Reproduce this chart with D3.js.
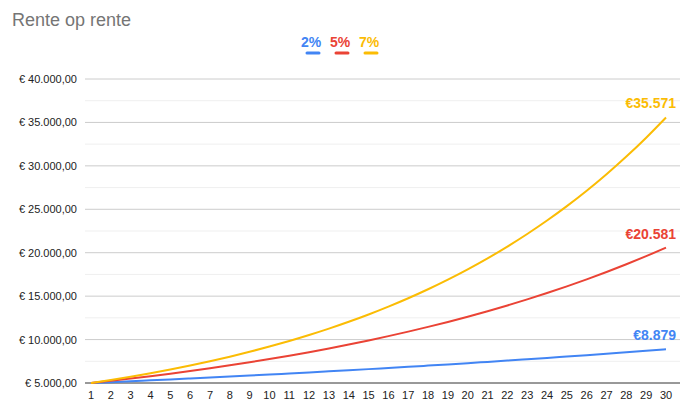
<!DOCTYPE html>
<html><head><meta charset="utf-8">
<script src="https://cdn.jsdelivr.net/npm/d3@7"></script>
<style>body{margin:0;background:#fff;font-family:"Liberation Sans",Arial,sans-serif}</style>
</head><body><svg id="c" width="690" height="410"></svg>
<script>
const years = d3.range(1, 31)
const rate2 = [5000,5100,5202,5306.04,5412.16,5520.40,5630.81,5743.43,5858.30,5975.46,6094.97,6216.87,6341.21,6468.04,6597.40,6729.34,6863.93,7001.21,7141.23,7284.06,7429.74,7578.33,7729.90,7884.50,8042.19,8203.03,8367.09,8534.44,8705.13,8879.23]
const rate5 = [5000,5250,5512.5,5788.13,6077.53,6381.41,6700.48,7035.50,7387.28,7756.64,8144.47,8551.70,8979.28,9428.25,9899.66,10394.64,10914.37,11460.09,12033.10,12634.75,13266.49,13929.81,14626.30,15357.62,16125.50,16931.77,17778.36,18667.28,19600.65,20580.68]
const rate7 = [5000,5350,5724.5,6125.22,6553.98,7012.76,7503.65,8028.91,8590.93,9192.30,9835.76,10524.26,11260.96,12049.22,12892.67,13795.15,14760.81,15794.07,16899.65,18082.63,19348.41,20702.80,22151.99,23702.63,25361.82,27137.14,29036.74,31069.31,33244.16,35571.25]
const seriesNames = ['2%', '5%', '7%']
const yTicks = [5000, 10000, 15000, 20000, 25000, 30000, 35000, 40000]

const colors = ['#4285f4', '#ea4335', '#fbbc04']
const series = [rate2, rate5, rate7]
const svg = d3.select('#c')

const x = d3.scalePoint().domain(years).range([91, 666])
const y = d3.scaleLinear().domain([5000, 40000]).range([383, 79])

svg.append('text').attr('x', 12).attr('y', 26).attr('fill', '#757575')
  .style('font-size', '18px').text('Rente op rente')

// minor grid
svg.append('g').selectAll('line').data(yTicks.slice(0, -1).map((d) => d + 2500))
  .join('line').attr('x1', 85).attr('x2', 680).attr('y1', (d) => y(d)).attr('y2', (d) => y(d))
  .attr('stroke', '#efefef')
svg.append('g').selectAll('line').data(yTicks)
  .join('line').attr('x1', 85).attr('x2', 680).attr('y1', (d) => y(d)).attr('y2', (d) => y(d))
  .attr('stroke', (d) => d === 5000 ? '#333' : '#ccc')

const fmt = (v) => '€ ' + v.toLocaleString('de-DE') + ',00'
svg.append('g').selectAll('text').data(yTicks).join('text')
  .attr('x', 77).attr('y', (d) => y(d) + 4).attr('text-anchor', 'end')
  .attr('fill', '#222').style('font-size', '11px').text(fmt)

svg.append('g').selectAll('text').data(years).join('text')
  .attr('x', (d) => x(d)).attr('y', 399).attr('text-anchor', 'middle')
  .attr('fill', '#222').style('font-size', '11px').text((d) => d)

const line = d3.line().x((d, i) => x(years[i])).y((d) => y(d)).curve(d3.curveMonotoneX)
series.forEach((s, i) => {
  svg.append('path').datum(s).attr('d', line).attr('fill', 'none')
    .attr('stroke', colors[i]).attr('stroke-width', 2)
  const last = s[s.length - 1]
  svg.append('text').attr('x', x(30) + 10).attr('y', y(last) - 9).attr('text-anchor', 'end')
    .attr('fill', colors[i]).style('font-size', '14px').style('font-weight', 'bold')
    .text('€' + Math.round(last).toLocaleString('de-DE'))
})

// legend
const lg = svg.append('g').selectAll('g').data(seriesNames).join('g')
  .attr('transform', (d, i) => `translate(${301 + i * 29},0)`)
lg.append('text').attr('y', 47).attr('fill', (d, i) => colors[i])
  .style('font-size', '14px').style('font-weight', 'bold').text((d) => d)
lg.append('line').attr('x1', 6).attr('x2', 18).attr('y1', 53).attr('y2', 53)
  .attr('stroke', (d, i) => colors[i]).attr('stroke-width', 3).attr('stroke-linecap', 'round')
</script></body></html>
